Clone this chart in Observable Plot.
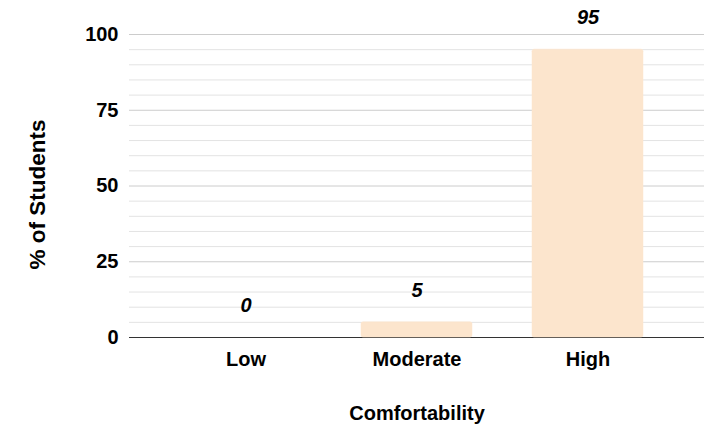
<!DOCTYPE html>
<html>
<head>
<meta charset="utf-8">
<script src="https://cdn.jsdelivr.net/npm/d3@7"></script>
<script src="https://cdn.jsdelivr.net/npm/@observablehq/plot@0.6"></script>
<style>
  body { margin: 0; background: #fff; }
  svg { font-family: "Liberation Sans", Arial, sans-serif; }
</style>
</head>
<body>
<div id="chart"></div>
<script>
const categories = ["Low", "Moderate", "High"];
const values = [0, 5, 95];
const majorTicks = [0, 25, 50, 75, 100];
const minorTicks = [5, 10, 15, 20, 30, 35, 40, 45, 55, 60, 65, 70, 80, 85, 90, 95];
const xTitle = "Comfortability";
const yTitle = "% of Students";

const data = categories.map((c, i) => ({ category: c, value: values[i] }));

const chart = Plot.plot({
  width: 726,
  height: 448,
  marginLeft: 129,
  marginRight: 22,
  marginTop: 34,
  marginBottom: 111,
  style: { fontFamily: "Liberation Sans, Arial, sans-serif", fontSize: "20px", fontWeight: "bold", color: "#000" },
  x: { domain: categories, padding: 0.35, label: null },
  y: { domain: [0, 100], label: null },
  marks: [
    Plot.ruleY(minorTicks, { stroke: "#e3e3e3", strokeWidth: 1, strokeOpacity: 1 }),
    Plot.ruleY(majorTicks.filter(d => d !== 0), { stroke: "#cccccc", strokeWidth: 1, strokeOpacity: 1 }),
    Plot.ruleY([0], { stroke: "#333333", strokeWidth: 1 }),
    Plot.barY(data, { x: "category", y: "value", fill: "#fce5cd", stroke: "#fce5cd", strokeWidth: 0.5, rx: 2 }),
    Plot.text(data, { x: "category", y: "value", text: d => String(d.value), dy: -32, fontStyle: "italic", fontWeight: "bold", fontSize: 20, fill: "#000" }),
    Plot.axisY({ ticks: majorTicks, tickSize: 0, tickPadding: 11, label: null, fontSize: 20, fontWeight: "bold", fill: "#000" }),
    Plot.axisX({ tickSize: 0, tickPadding: 14, label: null, fontSize: 20, fontWeight: "bold", fill: "#000" }),
    Plot.text([xTitle], { frameAnchor: "bottom", lineAnchor: "middle", textAnchor: "middle", dy: 76, text: d => d, fontSize: 20, fontWeight: "bold", fill: "#000" }),
    Plot.text([yTitle], { frameAnchor: "left", textAnchor: "middle", lineAnchor: "middle", dx: -92, dy: 8.5, rotate: -90, text: d => d, fontSize: 22.5, fontWeight: "bold", fill: "#000" })
  ]
});
document.getElementById("chart").appendChild(chart);
</script>
</body>
</html>
